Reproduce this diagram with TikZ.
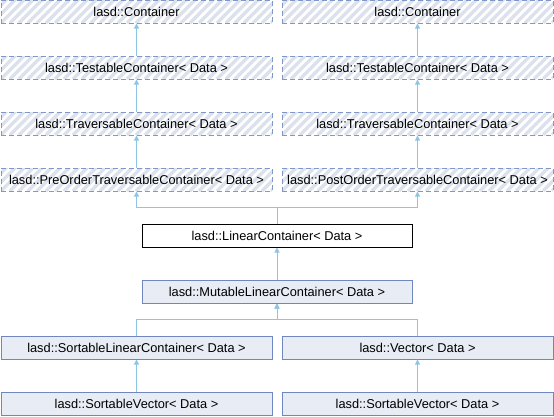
\documentclass[tikz,border=0pt]{standalone}
\usepackage{fontspec}
\setmainfont{Liberation Sans}
\usetikzlibrary{arrows.meta}
\definecolor{hatchc}{HTML}{DCE2ED}
\definecolor{dashc}{HTML}{7F98C9}
\definecolor{boxfill}{HTML}{E8ECF4}
\definecolor{boxdraw}{HTML}{6F86BE}
\definecolor{edgec}{HTML}{8EC4E6}
\tikzset{
  base/.style={rectangle, inner sep=0pt, minimum height=23pt, line width=1pt,
    font=\fontsize{12.8}{14}\selectfont, text=black},
  wide/.style={minimum width=271pt},
  mid/.style={minimum width=270pt},
  hatchbox/.style={base, wide, draw=dashc, dash pattern=on 5pt off 3pt, fill=white,
    path picture={\foreach \i in {-4,...,32}{\draw[hatchc, line width=3.5pt, solid]
      ([xshift=\i*9pt]path picture bounding box.south west) -- ++(30,-30);}}},
  plainbox/.style={base, draw=boxdraw, fill=boxfill},
  whitebox/.style={base, mid, draw=black, fill=white},
  edge/.style={draw=edgec, line width=1pt, -{Triangle[length=5pt,width=5pt]}}
}
\begin{document}
\begin{tikzpicture}[x=1pt,y=-1pt]
\useasboundingbox (0,0) rectangle (554,416);
% row 1
\node[hatchbox] (c1) at (136.5,11.5) {lasd::Container};
\node[hatchbox] (c2) at (417.5,11.5) {lasd::Container};
% row 2
\node[hatchbox] (t1) at (136.5,67.5) {lasd::TestableContainer< Data >};
\node[hatchbox] (t2) at (417.5,67.5) {lasd::TestableContainer< Data >};
% row 3
\node[hatchbox] (tr1) at (136.5,123.5) {lasd::TraversableContainer< Data >};
\node[hatchbox] (tr2) at (417.5,123.5) {lasd::TraversableContainer< Data >};
% row 4
\node[hatchbox] (pre) at (136.5,179.5) {lasd::PreOrderTraversableContainer< Data >};
\node[hatchbox] (post) at (417.5,179.5) {lasd::PostOrderTraversableContainer< Data >};
% row 5
\node[whitebox] (lin) at (277,235.5) {lasd::LinearContainer< Data >};
% row 6
\node[plainbox, mid] (mut) at (277,291.5) {lasd::MutableLinearContainer< Data >};
% row 7
\node[plainbox, wide] (sl) at (136.5,347.5) {lasd::SortableLinearContainer< Data >};
\node[plainbox, wide] (vec) at (417.5,347.5) {lasd::Vector< Data >};
% row 8
\node[plainbox, wide] (sv1) at (136.5,403.5) {lasd::SortableVector< Data >};
\node[plainbox, wide] (sv2) at (417.5,403.5) {lasd::SortableVector< Data >};
% edges
\draw[edge] (t1.north) -- (c1.south);
\draw[edge] (t2.north) -- (c2.south);
\draw[edge] (tr1.north) -- (t1.south);
\draw[edge] (tr2.north) -- (t2.south);
\draw[edge] (pre.north) -- (tr1.south);
\draw[edge] (post.north) -- (tr2.south);
\draw[edge] (lin.north) -- ++(0,-16) -| (pre.south);
\draw[edge] (lin.north) -- ++(0,-16) -| (post.south);
\draw[edge] (mut.north) -- (lin.south);
\draw[edge] (sl.north) -- ++(0,-16) -| (mut.south);
\draw[edge] (vec.north) -- ++(0,-16) -| (mut.south);
\draw[edge] (sv1.north) -- (sl.south);
\draw[edge] (sv2.north) -- (vec.south);
\end{tikzpicture}
\end{document}
